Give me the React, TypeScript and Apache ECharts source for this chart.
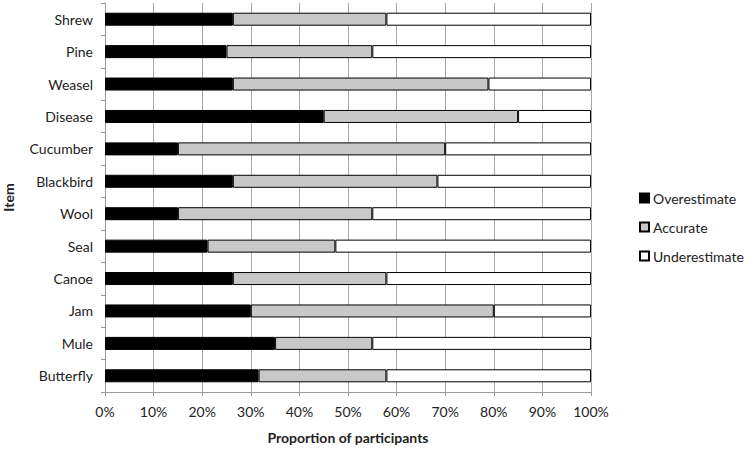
import React, { useEffect, useRef } from "react";
import * as echarts from "echarts";

const categories = ["Shrew", "Pine", "Weasel", "Disease", "Cucumber", "Blackbird", "Wool", "Seal", "Canoe", "Jam", "Mule", "Butterfly"];
const overestimate = [26.3, 25, 26.3, 45, 15, 26.3, 15, 21.1, 26.3, 30, 35, 31.6];
const accurate = [31.6, 30, 52.6, 40, 55, 42.1, 40, 26.3, 31.6, 50, 20, 26.3];
const underestimate = [42.1, 45, 21.1, 15, 30, 31.6, 45, 52.6, 42.1, 20, 45, 42.1];
const xTicks = [0, 10, 20, 30, 40, 50, 60, 70, 80, 90, 100];

const FONT = "Lato";

export default function App() {
  const ref = useRef<HTMLDivElement>(null);
  useEffect(() => {
    if (!ref.current) return;
    const chart = echarts.init(ref.current, null, { renderer: "svg" });
    const mk = (name: string, data: number[], color: string) => ({
      name,
      type: "bar",
      stack: "total",
      data,
      barWidth: 13,
      itemStyle: { color, borderColor: "#000", borderWidth: 1 },
      emphasis: { disabled: true },
    });
    chart.setOption({
      animation: false,
      textStyle: { fontFamily: FONT },
      grid: { left: 105, right: 159, top: 3, bottom: 57, containLabel: false, outerBoundsMode: "none" },
      legend: {
        orient: "vertical",
        left: 634,
        top: 186,
        itemWidth: 9,
        itemHeight: 9,
        itemGap: 15,
        icon: "rect",
        textStyle: { fontFamily: FONT, fontSize: 14, color: "#222", padding: [0, 0, 0, -1] },
        data: ["Overestimate", "Accurate", "Underestimate"],
      },
      xAxis: {
        type: "value",
        min: 0,
        max: 100,
        interval: 10,
        name: "Proportion of participants",
        nameLocation: "middle",
        nameGap: 38,
        nameTextStyle: { fontFamily: FONT, fontSize: 14, fontWeight: "bold", color: "#222" },
        axisLine: { show: true, lineStyle: { color: "#9a9a9a" } },
        axisTick: { show: true, length: 4, lineStyle: { color: "#9a9a9a" } },
        axisLabel: {
          fontFamily: FONT,
          fontSize: 14,
          color: "#222",
          margin: 12,
          formatter: (v: number) => (xTicks.includes(v) ? v + "%" : ""),
        },
        splitLine: { show: true, lineStyle: { color: "#a8a8a8", width: 1 } },
      },
      yAxis: {
        type: "category",
        inverse: true,
        data: categories,
        name: "Item",
        nameLocation: "middle",
        nameGap: 90,
        nameRotate: 90,
        nameTextStyle: { fontFamily: FONT, fontSize: 14, fontWeight: "bold", color: "#222" },
        axisLine: { show: true, lineStyle: { color: "#9a9a9a" } },
        axisTick: { show: true, length: 4, lineStyle: { color: "#9a9a9a" } },
        axisLabel: { fontFamily: FONT, fontSize: 14, color: "#222", margin: 12 },
        splitLine: { show: false },
      },
      series: [
        mk("Overestimate", overestimate, "#000000"),
        mk("Accurate", accurate, "#c8c8c8"),
        mk("Underestimate", underestimate, "#ffffff"),
      ],
    });
    return () => chart.dispose();
  }, []);
  return <div ref={ref} style={{ width: 750, height: 449, position: "absolute", left: 0, top: 0, background: "#fff" }} />;
}
